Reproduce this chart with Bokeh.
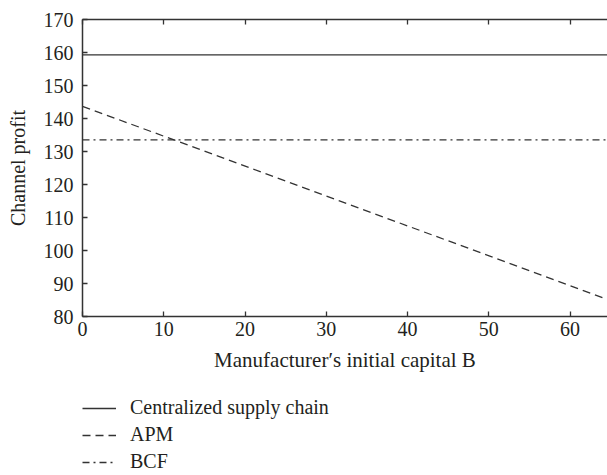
from bokeh.plotting import figure
from bokeh.layouts import column
from bokeh.models import LinearAxis, Legend, LegendItem, Range1d, FixedTicker
from bokeh.embed import file_html
from bokeh.resources import INLINE

# data
B = [0, 65]
centralized = [159.3, 159.3]
apm = [143.7, 84.8]
bcf = [133.5, 133.5]
x_ticks = [0, 10, 20, 30, 40, 50, 60]
y_ticks = [80, 90, 100, 110, 120, 130, 140, 150, 160, 170]
series_names = ["Centralized supply chain", "APM", "BCF"]

FONT = "Liberation Serif"
FS = "20px"
COL = "#333333"
TXT = "#231f20"
DASHES = ["solid", "8 5", "7 4 2 4"]

p = figure(frame_width=525, frame_height=297, output_backend="svg",
           toolbar_location=None, x_range=Range1d(0, 64.6), y_range=Range1d(80, 170),
           min_border_left=82, min_border_top=19, min_border_right=0, min_border_bottom=62)
p.outline_line_color = None
p.grid.grid_line_color = None
p.background_fill_color = "white"

series = [centralized, apm, bcf]
for vals, dash in zip(series, DASHES):
    p.line(B, vals, line_color=COL, line_width=1.3, line_dash=dash)

for ax in (p.xaxis[0], p.yaxis[0]):
    ax.major_tick_in = 5
    ax.major_tick_out = 0
    ax.minor_tick_line_color = None
    ax.axis_line_color = COL
    ax.axis_line_width = 1.5
    ax.major_tick_line_color = COL
    ax.major_tick_line_width = 1.3
    ax.major_label_text_font = FONT
    ax.major_label_text_font_size = FS
    ax.major_label_text_color = TXT
    ax.axis_label_text_font = FONT
    ax.axis_label_text_font_size = FS
    ax.axis_label_text_font_style = "normal"
    ax.axis_label_text_color = TXT

p.xaxis[0].ticker = FixedTicker(ticks=x_ticks)
p.yaxis[0].ticker = FixedTicker(ticks=y_ticks)
p.xaxis[0].axis_label = "Manufacturer\u2032s initial capital B"
p.xaxis[0].axis_label_text_font_size = "21px"
p.yaxis[0].axis_label = "Channel profit"
p.xaxis[0].major_label_standoff = 5
p.xaxis[0].axis_label_standoff = 9
p.yaxis[0].major_label_standoff = 9
p.yaxis[0].axis_label_standoff = 12

top = LinearAxis(ticker=FixedTicker(ticks=x_ticks))
top.major_tick_in = 5
top.major_tick_out = 0
top.minor_tick_line_color = None
top.axis_line_color = COL
top.axis_line_width = 1.5
top.major_tick_line_color = COL
top.major_tick_line_width = 1.3
top.major_label_text_font_size = "0px"
top.major_label_text_alpha = 0
top.major_label_standoff = 0
p.add_layout(top, "above")

# legend panel (same series, drawn outside its view so only the legend shows)
lg = figure(frame_width=525, frame_height=79, output_backend="svg", toolbar_location=None,
            x_range=Range1d(0, 1), y_range=Range1d(0, 1),
            min_border_left=82, min_border_right=0, min_border_top=18, min_border_bottom=0)
lg.axis.visible = False
lg.grid.grid_line_color = None
lg.outline_line_color = None
items = []
for name, vals, dash in zip(series_names, series, DASHES):
    r = lg.line(B, vals, line_color=COL, line_width=1.3, line_dash=dash)
    items.append(LegendItem(label=name, renderers=[r]))

legend = Legend(items=items, location="top_left", orientation="vertical")
legend.label_text_font = FONT
legend.label_text_font_size = "20px"
legend.label_text_color = TXT
legend.glyph_width = 34
legend.glyph_height = 20
legend.label_height = 20
legend.spacing = 4
legend.label_standoff = 14
legend.padding = 0
legend.margin = 0
legend.border_line_color = None
legend.background_fill_alpha = 0
lg.add_layout(legend, "center")

layout = column(p, lg, spacing=0)
open("out.html", "w").write(file_html(layout, INLINE))
